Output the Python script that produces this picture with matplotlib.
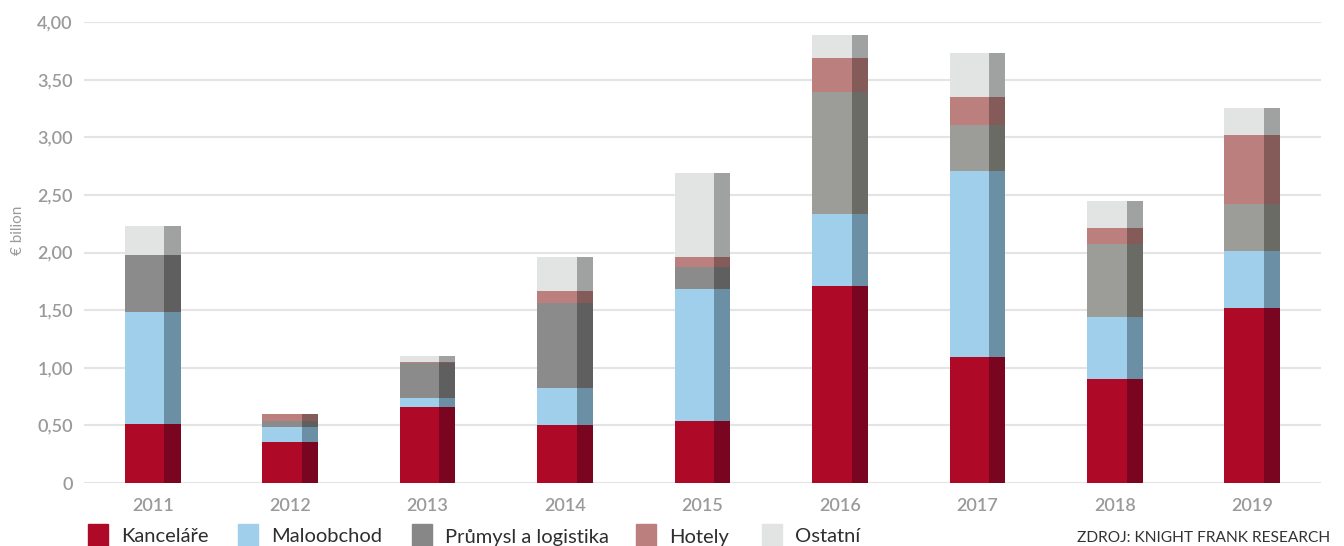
import matplotlib
matplotlib.use("Agg")
import matplotlib.pyplot as plt
import numpy as np
from matplotlib.patches import Rectangle

plt.rcParams["font.family"] = ["Lato", "DejaVu Sans"]

# objem investic podle sektoru (mld. EUR)
years = ["2011", "2012", "2013", "2014", "2015", "2016", "2017", "2018", "2019"]
kancelare = [0.51, 0.36, 0.66, 0.50, 0.54, 1.71, 1.09, 0.90, 1.52]
maloobchod = [0.97, 0.13, 0.08, 0.32, 1.14, 0.62, 1.62, 0.54, 0.49]
prumysl = [0.50, 0.05, 0.30, 0.74, 0.19, 1.06, 0.40, 0.63, 0.41]
hotely = [0.00, 0.06, 0.01, 0.11, 0.09, 0.30, 0.24, 0.14, 0.60]
ostatni = [0.25, 0.00, 0.05, 0.29, 0.73, 0.20, 0.38, 0.24, 0.23]
yticks = [0, 0.5, 1.0, 1.5, 2.0, 2.5, 3.0, 3.5, 4.0]
ytick_labels = ["0", "0,50", "1,00", "1,50", "2,00", "2,50", "3,00", "3,50", "4,00"]

series = [
    ("Kanceláře", kancelare, "#ae0a27", "#7a0520"),
    ("Maloobchod", maloobchod, "#9fcfeb", "#6b8fa5"),
    ("Průmysl a logistika", prumysl, "#8b8b8b", "#5f5f5f"),
    ("Hotely", hotely, "#bb807d", "#845b58"),
    ("Ostatní", ostatni, "#e2e4e3", "#a0a2a1"),
]
# od roku 2016 je průmysl v trochu světlejším odstínu
grey_new = ("#9c9c98", "#6b6b66")

fig = plt.figure(figsize=(13.44, 5.46), dpi=100)
ax = fig.add_axes([84 / 1344, 63 / 546, 1237 / 1344, 461 / 546])

x = np.arange(len(years))
bar_w = 0.405
dark_w = 0.117
light_w = bar_w - dark_w
bottom = np.zeros(len(years))
for name, vals, light, dark in series:
    vals = np.array(vals)
    lc = [light] * len(years)
    dc = [dark] * len(years)
    if name.startswith("Průmysl"):
        for i in range(5, len(years)):
            lc[i], dc[i] = grey_new
    ax.bar(x - bar_w / 2, vals, width=light_w, bottom=bottom, align="edge",
           color=lc, linewidth=0, zorder=3)
    ax.bar(x - bar_w / 2 + light_w, vals, width=dark_w, bottom=bottom, align="edge",
           color=dc, linewidth=0, zorder=3)
    bottom += vals

ax.set_xlim(-0.5, len(years) - 0.5)
ax.set_ylim(0, 4.0)
ax.set_yticks(yticks)
ax.set_yticklabels(ytick_labels)
ax.set_xticks(x)
ax.set_xticklabels(years)
ax.grid(axis="y", color="#e4e4e4", linewidth=1.5, zorder=0)
ax.tick_params(axis="both", length=0, colors="#9a9a9a", labelsize=13)
ax.tick_params(axis="y", pad=8)
ax.tick_params(axis="x", pad=11)
for lab in ax.get_xticklabels() + ax.get_yticklabels():
    lab.set_fontweight("semibold")
for s in ax.spines.values():
    s.set_visible(False)

fig.text(18 / 1344, 1 - 230 / 546, "€ bilion", rotation=90, color="#9a9a9a",
         fontsize=11, ha="center", va="center")

# legenda ve spodní části
leg_x = [88, 238, 412, 636, 762]
leg_colors = ["#ae0a27", "#9fcfeb", "#878787", "#bb807d", "#e2e4e3"]
for (name, _, _, _), px, c in zip(series, leg_x, leg_colors):
    fig.patches.append(Rectangle((px / 1344, 0), 20 / 1344, 22 / 546,
                                 transform=fig.transFigure, color=c))
    fig.text((px + 33) / 1344, 1 - 537 / 546, name, fontsize=14.5,
             color="#2e2e2e", va="center", ha="left")

fig.text(1330 / 1344, 1 - 538 / 546, "ZDROJ: KNIGHT FRANK RESEARCH", fontsize=11.2,
         color="#333333", ha="right", va="center")

fig.savefig("out.png", dpi=100, facecolor="white")
